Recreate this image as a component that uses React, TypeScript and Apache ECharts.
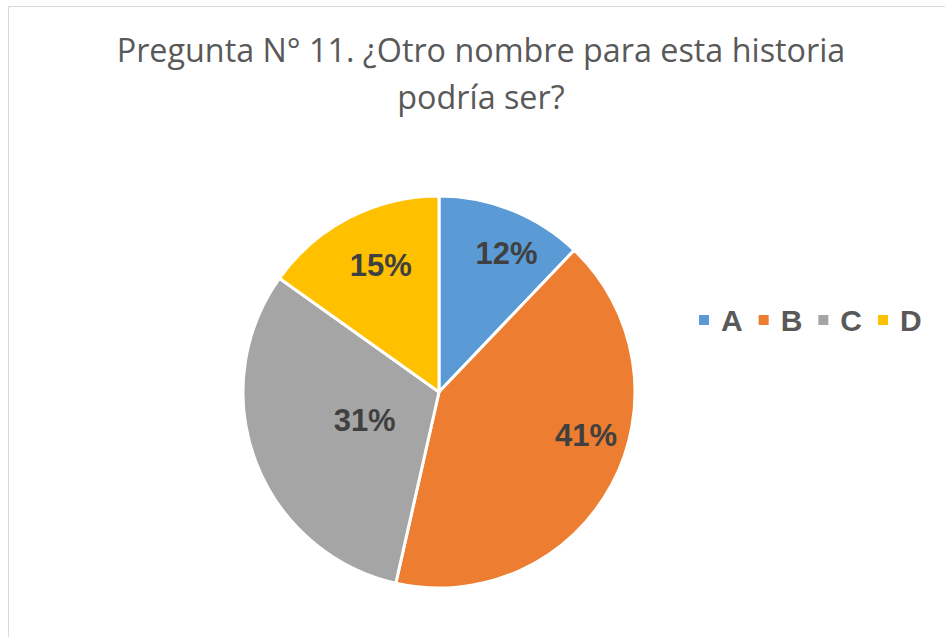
import React, { useEffect, useRef } from "react";
import * as echarts from "echarts";

const titleLines = ["Pregunta N° 11. ¿Otro nombre para esta historia", "podría ser?"];
const categories = ["A", "B", "C", "D"];
const values = [12, 41, 31, 15];
const colors = ["#5B9BD5", "#ED7D31", "#A5A5A5", "#FFC000"];

// Per-label nudges (Excel "best fit" placement), in pixels
const labelNudges = [
  [30, -45],
  [58, -4],
  [20, -8],
  [-12, -37],
];

export default function App() {
  const ref = useRef<HTMLDivElement>(null);
  useEffect(() => {
    if (!ref.current) return;
    const chart = echarts.init(ref.current, null, { renderer: "svg" });
    chart.setOption({
      animation: false,
      backgroundColor: "#ffffff",
      title: {
        text: titleLines.join("\n"),
        left: 481,
        textAlign: "center",
        top: 25,
        padding: 0,
        textStyle: {
          fontFamily: "Open Sans",
          fontSize: 32.3,
          fontWeight: "normal",
          color: "#595959",
          lineHeight: 47,
        },
      },
      legend: {
        orient: "horizontal",
        left: 697,
        top: 305,
        padding: 0,
        itemWidth: 12,
        itemHeight: 12,
        itemGap: 14,
        icon: "rect",
        data: categories,
        textStyle: {
          fontFamily: "Liberation Sans",
          fontSize: 30,
          fontWeight: "bold",
          color: "#595959",
          lineHeight: 30,
          padding: [0, 0, 0, 6],
        },
      },
      graphic: [
        {
          type: "rect",
          shape: { x: 8.5, y: 6.5, width: 1000, height: 1000 },
          style: { fill: "none", stroke: "#d9d9d9", lineWidth: 1 },
          silent: true,
        },
      ],
      series: [
        {
          type: "pie",
          center: [439, 392],
          radius: 196,
          startAngle: 90,
          clockwise: true,
          avoidLabelOverlap: false,
          data: categories.map((c, i) => ({
            name: c,
            value: values[i],
            itemStyle: { color: colors[i] },
          })),
          itemStyle: { borderColor: "#ffffff", borderWidth: 3 },
          label: {
            show: true,
            position: "inside",
            formatter: "{c}%",
            fontFamily: "Liberation Sans",
            fontSize: 31,
            fontWeight: "bold",
            color: "#404040",
            align: "center",
            verticalAlign: "middle",
          },
          labelLine: { show: false },
          labelLayout: (params: any) => {
            const n = labelNudges[params.dataIndex] || [0, 0];
            return { dx: n[0], dy: n[1] };
          },
          emphasis: { disabled: true },
        },
      ],
    });
    return () => chart.dispose();
  }, []);
  return (
    <div
      ref={ref}
      style={{ position: "absolute", left: 0, top: 0, width: 945, height: 637 }}
    />
  );
}
